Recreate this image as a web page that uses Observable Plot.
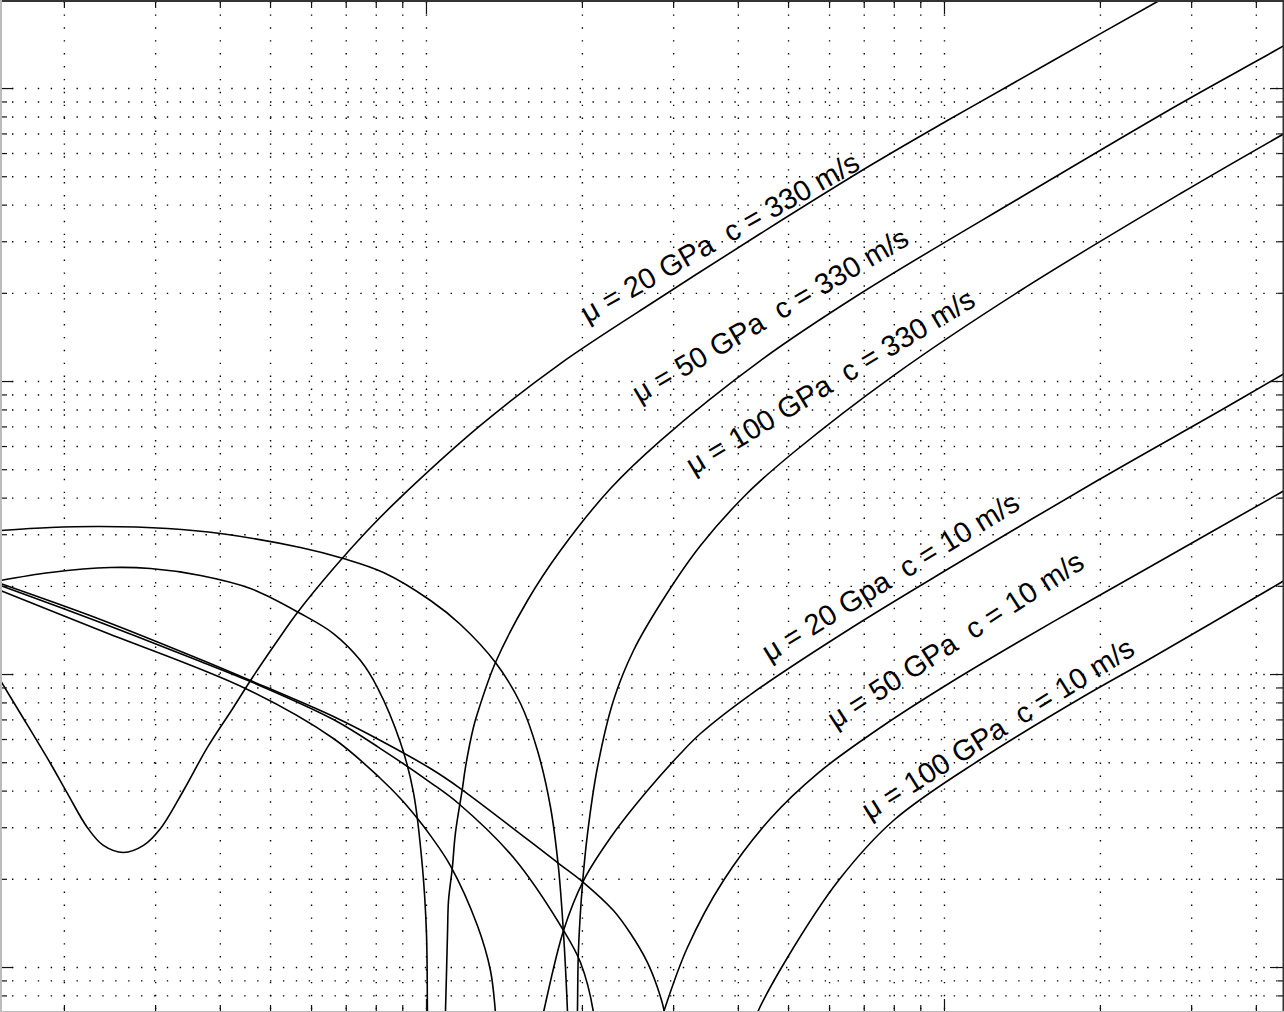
<!DOCTYPE html>
<html><head><meta charset="utf-8">
<script src="https://cdn.jsdelivr.net/npm/d3@7"></script>
<script src="https://cdn.jsdelivr.net/npm/@observablehq/plot@0.6"></script>
<style>html,body{margin:0;padding:0;background:#fff;overflow:hidden}</style>
</head><body><div id="chart"></div>
<script>
// axis extents (log-log)
const xDomain = [0.15055, 45.33];
const yDomain = [0.7022, 1997.6];
const xMajorTicks = [1, 10];
const xMinorTicks = [0.2, 0.3, 0.4, 0.5, 0.6, 0.7, 0.8, 0.9, 2, 3, 4, 5, 6, 7, 8, 9, 20, 30, 40];
const yMajorTicks = [1, 10, 100, 1000];
const yMinorTicks = [0.8, 0.9, 2, 3, 4, 5, 6, 7, 8, 9, 20, 30, 40, 50, 60, 70, 80, 90, 200, 300, 400, 500, 600, 700, 800, 900];

// rising curves, c = 330 m/s
const mu20c330X = [0.1505, 0.1645, 0.188, 0.2027, 0.2216, 0.2378, 0.2602, 0.2843, 0.3066, 0.3396, 0.3777, 0.4239, 0.4614, 0.5159, 0.5636, 0.6612, 0.7694, 0.879, 1.271, 1.814, 2.83, 4.414, 7.294, 10.13, 13.23, 20.01, 25.78, 31.2];
const mu20c330Y = [9.54, 7.36, 4.97, 3.93, 3.0, 2.61, 2.47, 2.61, 2.98, 4.02, 5.64, 7.72, 9.77, 13.06, 16.28, 23.0, 31.0, 39.3, 70.8, 115.2, 193.5, 320.0, 554.6, 777.7, 1016, 1540, 1981, 2392];
const mu50c330X = [1.083, 1.088, 1.098, 1.103, 1.122, 1.137, 1.174, 1.189, 1.232, 1.254, 1.359, 1.567, 1.814, 2.266, 2.83, 4.414, 6.885, 14.02, 28.55, 40.2, 45.3];
const mu50c330Y = [0.5635, 0.702, 1.306, 1.693, 2.194, 2.866, 4.115, 4.815, 6.595, 7.36, 10.99, 17.89, 26.5, 43.14, 62.89, 117.9, 199.7, 424.6, 888.9, 1246, 1403];
const mu100c330X = [1.948, 1.956, 1.965, 2.001, 2.046, 2.138, 2.296, 2.51, 2.855, 3.381, 4.167, 5.11, 7.972, 14.02, 28.55, 45.3];
const mu100c330Y = [0.5635, 0.702, 1.143, 1.935, 2.866, 4.815, 8.153, 12.08, 17.89, 27.56, 41.65, 57.25, 104.8, 204.5, 438.1, 702.2];

// rising curves, c = 10 m/s
const mu20c10X = [1.638, 1.682, 1.839, 2.01, 2.296, 2.671, 3.093, 3.381, 4.222, 6.584, 10.27, 19.74, 34.1, 45.3];
const mu20c10Y = [0.5635, 0.702, 1.338, 1.981, 2.866, 4.019, 5.375, 6.29, 8.545, 14.36, 23.18, 45.93, 79.62, 106.5];
const mu50c10X = [2.767, 2.868, 3.19, 3.744, 4.615, 5.686, 7.624, 10.27, 13.83, 18.55, 24.99, 45.3];
const mu50c10Y = [0.5635, 0.702, 1.17, 1.981, 3.225, 4.593, 6.699, 9.391, 12.86, 17.34, 23.37, 42.46];
const mu100c10X = [4.167, 4.355, 4.977, 6.243, 7.972, 11.89, 18.55, 24.99, 45.3];
const mu100c10Y = [0.5635, 0.702, 1.082, 1.981, 3.175, 5.208, 8.411, 11.34, 20.93];

// falling curves
const fall1X = [0.1505, 0.188, 0.2348, 0.3162, 0.4003, 0.5711, 0.6914, 0.826, 1.018, 1.163, 1.359, 1.519, 1.638, 1.736, 1.798, 1.839, 1.872, 1.879];
const fall1Y = [31.0, 31.75, 32.0, 31.5, 30.28, 27.13, 24.88, 22.29, 17.89, 14.82, 10.99, 7.962, 5.503, 3.517, 2.194, 1.306, 0.702, 0.5635];
const fall2X = [0.1505, 0.188, 0.2455, 0.2932, 0.3663, 0.4573, 0.5711, 0.6612, 0.7458, 0.8042, 0.8907, 0.9439, 0.9824, 1.0, 1.0044, 1.0067];
const fall2Y = [20.93, 22.29, 23.18, 23.0, 21.78, 19.66, 16.15, 13.8, 11.16, 9.03, 5.861, 3.956, 2.194, 1.306, 0.702, 0.5635];
const fall3X = [0.1505, 0.2348, 0.3663, 0.4573, 0.6612, 0.815, 1.018, 1.163, 1.79, 2.01, 2.296, 2.477, 2.671, 2.792, 2.881, 2.906];
const fall3Y = [20.44, 15.41, 11.25, 9.54, 7.189, 5.954, 4.777, 4.082, 2.282, 1.95, 1.565, 1.306, 1.04, 0.8546, 0.702, 0.5635];
const fall4X = [0.1505, 0.2348, 0.3663, 0.4573, 0.6612, 0.815, 1.018, 1.153, 1.472, 1.839, 1.983, 2.101, 2.12];
const fall4Y = [20.13, 15.05, 11.08, 9.465, 7.022, 5.589, 4.279, 3.629, 2.373, 1.338, 1.04, 0.702, 0.5635];
const fall5X = [0.1505, 0.2348, 0.4472, 0.6612, 0.815, 0.8907, 0.9608, 1.018, 1.112, 1.254, 1.329, 1.359, 1.371];
const fall5Y = [19.35, 14.13, 8.96, 6.048, 4.417, 3.774, 3.225, 2.82, 2.229, 1.391, 0.9767, 0.702, 0.5635];

// curve labels
const labelTexts = [
  "\u03bc = 20 GPa\u00a0 c = 330 m/s",
  "\u03bc = 50 GPa\u00a0 c = 330 m/s",
  "\u03bc = 100 GPa\u00a0 c = 330 m/s",
  "\u03bc = 20 Gpa\u00a0 c = 10 m/s",
  "\u03bc = 50 GPa\u00a0 c = 10 m/s",
  "\u03bc = 100 GPa\u00a0 c = 10 m/s"
];
const labelX = [2.046, 2.577, 3.277, 4.594, 6.16, 7.166];
const labelY = [157.8, 84.1, 47.77, 10.99, 6.492, 3.175];
const labelAngle = [-29.5, -30.5, -31, -31.5, -33, -32];

const series = [
  ["mu20c330", mu20c330X, mu20c330Y], ["mu50c330", mu50c330X, mu50c330Y], ["mu100c330", mu100c330X, mu100c330Y],
  ["mu20c10", mu20c10X, mu20c10Y], ["mu50c10", mu50c10X, mu50c10Y], ["mu100c10", mu100c10X, mu100c10Y],
  ["fall1", fall1X, fall1Y], ["fall2", fall2X, fall2Y], ["fall3", fall3X, fall3Y], ["fall4", fall4X, fall4Y], ["fall5", fall5X, fall5Y]
];
const rows = series.flatMap(([id, xs, ys]) => xs.map((x, i) => ({id, x, y: ys[i]})));
const labels = labelTexts.map((t, i) => ({text: t, x: labelX[i], y: labelY[i], angle: labelAngle[i]}));

const gridBase = {stroke: "#000", strokeOpacity: 1, strokeWidth: 1.4, strokeDasharray: "1.4,11.5"};
const noText = {tickFormat: () => "", label: null, stroke: "#111", strokeWidth: 1.2};

const chart = Plot.plot({
  width: 1284, height: 1012, margin: 0,
  style: {background: "#fff", overflow: "hidden"},
  x: {type: "log", domain: xDomain},
  y: {type: "log", domain: yDomain},
  marks: [
    Plot.gridX([...xMajorTicks, ...xMinorTicks], {...gridBase, strokeDashoffset: -1.5}),
    Plot.gridY([...yMajorTicks, ...yMinorTicks], {...gridBase, strokeDashoffset: 0.9}),
    Plot.line(rows, {x: "x", y: "y", z: "id", stroke: "#000", strokeWidth: 1.6, curve: "catmull-rom", clip: true}),
    ...labels.map(l => Plot.text([l], {x: "x", y: "y", text: "text", rotate: l.angle, textAnchor: "start", lineAnchor: "bottom",
      fontSize: 29, fontFamily: "Liberation Sans, Arial, Helvetica, sans-serif", fill: "#000"})),
    Plot.axisX({anchor: "top", ticks: xMajorTicks, tickSize: -13, ...noText}),
    Plot.axisX({anchor: "top", ticks: xMinorTicks, tickSize: -7, ...noText}),
    Plot.axisX({anchor: "bottom", ticks: xMajorTicks, tickSize: -13, ...noText}),
    Plot.axisX({anchor: "bottom", ticks: xMinorTicks, tickSize: -7, ...noText}),
    Plot.axisY({anchor: "left", ticks: yMajorTicks, tickSize: -13, ...noText}),
    Plot.axisY({anchor: "left", ticks: yMinorTicks, tickSize: -7, ...noText}),
    Plot.axisY({anchor: "right", ticks: yMajorTicks, tickSize: -15, ...noText}),
    Plot.axisY({anchor: "right", ticks: yMinorTicks, tickSize: -7, ...noText}),
    Plot.ruleY([yDomain[1]], {stroke: "#333", strokeWidth: 3}),
    Plot.ruleX([xDomain[1]], {stroke: "#333", strokeWidth: 4}),
    Plot.ruleX([xDomain[0]], {stroke: "#bbb", strokeWidth: 3}),
    Plot.ruleY([yDomain[0]], {stroke: "#bbb", strokeWidth: 3})
  ]
});
document.getElementById("chart").appendChild(chart);
</script>
</body></html>
